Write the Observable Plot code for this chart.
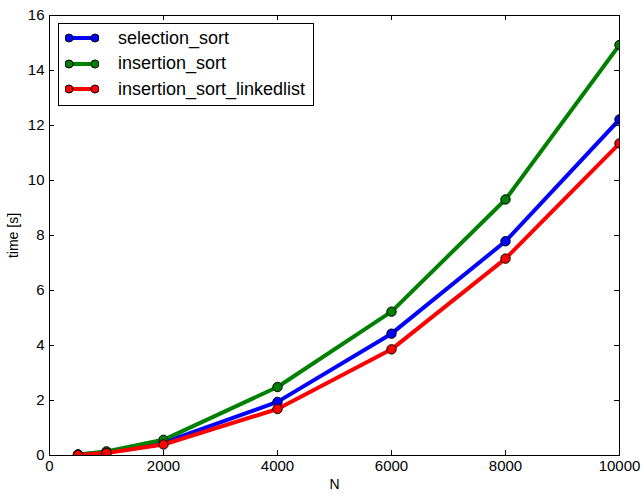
<!DOCTYPE html>
<html>
<head>
<meta charset="utf-8">
<script src="https://cdn.jsdelivr.net/npm/d3@7"></script>
<script src="https://cdn.jsdelivr.net/npm/@observablehq/plot@0.6"></script>
<style>
  html, body { margin: 0; padding: 0; background: #fff; }
  #wrap { position: relative; width: 644px; height: 495px; font-family: "Liberation Sans", Arial, sans-serif; }
  #legend { position: absolute; left: 58px; top: 23px; width: 254px; height: 81px; border: 1px solid #000; background: #fff; }
  .entry { position: absolute; left: 0; height: 20px; display: flex; align-items: center; font-size: 18px; color: #000; white-space: nowrap; }
  .entry svg { margin-left: 6px; margin-right: 19px; }
</style>
</head>
<body>
<div id="wrap"></div>
<script>
const N = [500, 1000, 2000, 4000, 6000, 8000, 10000];
const selectionSort = [0.03, 0.12, 0.47, 1.95, 4.43, 7.79, 12.22];
const insertionSort = [0.04, 0.15, 0.57, 2.49, 5.23, 9.31, 14.93];
const insertionSortLinked = [0.02, 0.09, 0.40, 1.69, 3.86, 7.16, 11.35];
const seriesNames = ["selection_sort", "insertion_sort", "insertion_sort_linkedlist"];
const seriesColors = ["#0000ff", "#008000", "#ff0000"];
const xTicks = [0, 2000, 4000, 6000, 8000, 10000];
const yTicks = [0, 2, 4, 6, 8, 10, 12, 14, 16];

const seriesValues = [selectionSort, insertionSort, insertionSortLinked];
const W = 644, H = 495, mL = 49, mR = 25, mT = 15, mB = 40;
const innerW = W - mL - mR, innerH = H - mT - mB;
const tick = 5;

const marks = [];
seriesValues.forEach((vals, i) => {
  const data = N.map((n, j) => ({n, t: vals[j]}));
  marks.push(Plot.line(data, {x: "n", y: "t", stroke: seriesColors[i], strokeWidth: 4, clip: "frame"}));
  marks.push(Plot.dot(data, {x: "n", y: "t", r: 4.7, fill: seriesColors[i], stroke: "#000", strokeWidth: 1, clip: "frame"}));
});
marks.push(
  Plot.ruleX(xTicks, {x: d => d, insetTop: innerH - tick, stroke: "#000"}),
  Plot.ruleX(xTicks, {x: d => d, insetBottom: innerH - tick, stroke: "#000"}),
  Plot.ruleY(yTicks, {y: d => d, insetRight: innerW - tick, stroke: "#000"}),
  Plot.ruleY(yTicks, {y: d => d, insetLeft: innerW - tick, stroke: "#000"}),
  Plot.frame({stroke: "#000", strokeWidth: 1}),
  Plot.axisX(xTicks, {tickSize: 0, tickPadding: 5, fontSize: 15, label: null, tickFormat: d => String(d)}),
  Plot.axisY(yTicks, {tickSize: 0, tickPadding: 5, fontSize: 15, label: null, tickFormat: d => String(d)}),
  Plot.text(["N"], {text: d => d, frameAnchor: "bottom", dy: 33, fontSize: 14}),
  Plot.text(["time [s]"], {text: d => d, frameAnchor: "left", textAnchor: "middle", dx: -36, rotate: -90, fontSize: 14})
);

const chart = Plot.plot({
  width: W, height: H,
  marginLeft: mL, marginRight: mR, marginTop: mT, marginBottom: mB,
  style: {fontFamily: "'Liberation Sans', Arial, sans-serif", color: "#000", background: "#fff"},
  x: {domain: [0, 10000]},
  y: {domain: [0, 16]},
  marks
});
const wrap = document.getElementById("wrap");
wrap.appendChild(chart);

const legend = document.createElement("div");
legend.id = "legend";
seriesNames.forEach((name, i) => {
  const e = document.createElement("div");
  e.className = "entry";
  e.style.top = (4 + i * 25.5) + "px";
  const c = seriesColors[i];
  e.innerHTML = `<svg width="34" height="12"><line x1="4" y1="6" x2="30" y2="6" stroke="${c}" stroke-width="4"/><circle cx="4" cy="6" r="4" fill="${c}" stroke="#000"/><circle cx="30" cy="6" r="4" fill="${c}" stroke="#000"/></svg><span>${name}</span>`;
  legend.appendChild(e);
});
wrap.appendChild(legend);
</script>
</body>
</html>
